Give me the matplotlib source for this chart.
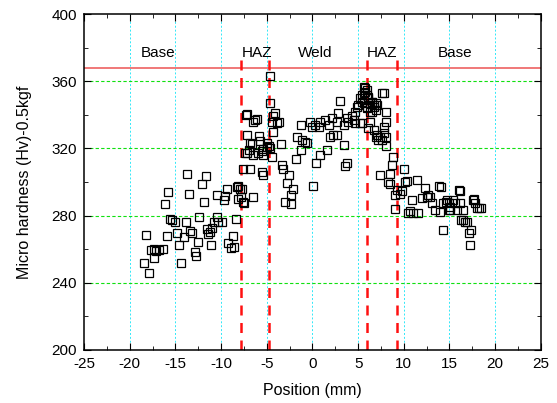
import numpy as np
import matplotlib
matplotlib.use("Agg")
import matplotlib.pyplot as plt
from matplotlib.ticker import MultipleLocator

plt.rcParams['font.family'] = ['Liberation Sans', 'DejaVu Sans']
plt.rcParams['axes.unicode_minus'] = False

# microhardness profile across the weld
pos = [
    # left base
    -18.2, -18.4, -17.9, -17.7, -17.4, -17.1, -16.8, -16.4, -17.3, -16.1, -15.9, -15.8,
    -15.6, -15.4, -15.1, -14.8, -14.6, -14.4, -14.1, -13.9, -13.7, -13.5, -13.4, -13.2,
    -12.9, -12.7, -12.5, -12.4, -12.1, -11.9, -11.7, -11.6, -11.4, -11.2, -11.1, -11.0,
    -10.8, -10.5, -10.4, -10.3, -9.9, -9.7, -9.6, -9.4, -9.2, -8.9, -8.7, -8.6,
    -8.4, -8.3, -8.1, -8.1, -7.9,
    # left HAZ
    -7.8, -7.7, -7.6, -7.5, -7.6, -7.4, -7.2, -7.2, -7.2, -7.0, -7.3, -6.8, -6.8, -6.6,
    -6.5, -6.5, -6.5, -6.3, -6.1, -6.0, -5.9, -5.7, -5.5, -5.5, -5.4, -5.4, -5.4, -5.0,
    -5.0, -4.8, -4.7, -4.6, -4.6, -4.4, -4.4, -4.3, -4.3, -4.1, -3.9, -3.7, -3.5,
    # weld
    -3.3, -3.2, -3.0, -2.8, -2.6, -2.4, -2.3, -2.1, -1.8, -1.7, -1.3, -1.3, -1.2, -0.8,
    -0.6, -0.3, -0.1, 0.1, 0.3, 0.4, 0.7, 0.8, 0.8, 1.4, 1.6, 1.8, 1.9, 2.1, 2.3, 2.7,
    2.7, 2.8, 3.0, 3.4, 3.4, 3.6, 3.8, 3.8, 3.9, 4.3, 4.5, 4.7, 4.7, 4.9, 5.0, 5.2,
    5.2, 5.4, 5.4, 5.4, 5.6, 5.6, 5.6, 5.8, 5.8, 5.95, 5.95, 5.95, 5.95,
    # right HAZ
    6.1, 6.1, 6.1, 6.3, 6.3, 6.3, 6.5, 6.5, 6.5, 6.7, 6.7, 6.7, 6.9, 6.9, 6.9, 7.05,
    7.05, 7.2, 7.4, 7.4, 7.6, 7.6, 7.8, 7.8, 7.8, 8.0, 8.0, 8.1, 8.1, 8.3, 8.5, 8.5,
    8.7, 8.8, 9.05, 9.05, 9.2, 9.6, 9.8,
    # right base
    10.0, 10.1, 10.3, 10.5, 10.7, 10.9, 11.05, 11.4, 11.6, 12.0, 12.3, 12.5, 12.7,
    12.9, 13.1, 13.4, 13.8, 14.0, 14.1, 14.3, 14.3, 14.6, 14.7, 14.9, 14.9, 15.1,
    15.1, 15.4, 15.6, 15.8, 16.0, 16.1, 16.2, 16.3, 16.5, 16.5, 16.7, 16.9, 17.1,
    17.2, 17.4, 17.6, 17.7, 17.8, 18.0, 18.2, 18.4,
]
hv = [
    268.5, 252.0, 245.6, 259.5, 260.0, 259.0, 259.5, 260.0, 254.6, 287.0, 268.0, 294.0,
    278.0, 277.4, 276.4, 269.8, 262.5, 251.6, 267.5, 276.4, 305.0, 292.7, 271.0, 269.5,
    258.5, 256.0, 264.0, 279.0, 299.0, 288.0, 303.7, 272.0, 269.0, 270.0, 262.5, 272.8,
    276.4, 279.4, 292.0, 276.4, 276.4, 289.3, 291.7, 295.8, 263.5, 260.5, 267.9, 261.5,
    278.0, 297.0, 290.0, 297.5, 296.0,
    291.0, 296.0, 288.0, 287.7, 308.0, 317.0, 317.0, 328.0, 340.5, 319.0, 340.0, 308.0,
    323.4, 322.4, 336.0, 316.0, 291.0, 337.0, 337.5, 317.0, 327.3, 324.4, 306.0, 318.5,
    316.0, 304.0, 319.4, 323.4, 321.0, 321.4, 363.3, 346.8, 320.5, 336.0, 315.0, 339.0,
    330.0, 341.0, 335.0, 336.0, 322.9,
    310.0, 308.0, 288.0, 299.6, 304.0, 292.0, 287.0, 296.0, 313.5, 327.0, 334.0, 319.0,
    325.0, 324.0, 323.0, 336.0, 333.0, 297.6, 334.0, 311.5, 332.6, 336.0, 316.0, 337.0,
    319.0, 334.0, 327.0, 338.0, 328.0, 336.0, 328.0, 341.0, 348.0, 334.0, 322.0, 309.5,
    338.0, 311.0, 336.0, 339.0, 337.0, 335.0, 341.8, 344.8, 345.8, 349.8, 335.0, 351.8,
    347.8, 335.0, 356.7, 352.8, 346.8, 355.8, 353.8, 354.8, 351.8, 343.8, 344.8,
    350.8, 349.8, 332.0, 346.8, 341.8, 336.0, 347.8, 341.8, 347.8, 344.8, 345.8, 331.0,
    342.9, 346.8, 327.0, 345.8, 328.0, 325.0, 327.0, 304.0, 352.8, 325.0, 352.8, 329.0,
    333.0, 336.0, 321.4, 341.8, 327.0, 300.0, 305.0, 298.8, 310.0, 314.7, 292.0, 283.7,
    295.0, 293.0, 294.8,
    307.5, 300.0, 300.8, 281.7, 282.9, 289.3, 281.4, 301.0, 281.7, 290.3, 296.2, 291.3,
    292.3, 291.3, 287.3, 283.3, 297.6, 282.3, 297.2, 287.3, 271.4, 288.3, 289.3, 283.3,
    287.3, 285.3, 283.3, 289.3, 287.3, 283.3, 295.2, 294.6, 287.3, 277.4, 283.3, 277.4,
    276.4, 276.4, 269.8, 262.5, 271.4, 289.3, 290.0, 287.3, 284.3, 284.3, 284.3,
]

haz_bounds = [-7.8, -4.8, 6.0, 9.2]
ref_hv = 368
zone_names = ['Base', 'HAZ', 'Weld', 'HAZ', 'Base']
zone_x = [-16.9, -6.1, 0.3, 7.6, 15.6]

fig = plt.figure(figsize=(5.57, 4.03), dpi=100)
ax = fig.add_axes([0.151, 0.132, 0.82, 0.833])

# grid
for gx in range(-20, 25, 5):
    ax.axvline(gx, color='#30e8f8', ls=(0, (2, 2)), lw=0.7, zorder=0)
for gy in [240, 280, 320, 360]:
    ax.axhline(gy, color='#10e010', ls=(0, (3, 2)), lw=0.8, zorder=0)

ax.axhline(ref_hv, color='#f07878', lw=1.4, zorder=1)
for b in haz_bounds:
    ax.plot([b, b], [200, 373], color='#ff1010', lw=1.8, ls=(0, (4, 3)), zorder=1)

ax.plot(pos, hv, ls='none', marker='s', ms=5.5, mfc='none', mec='black', mew=0.9, zorder=3)

for name, zx in zip(zone_names, zone_x):
    ax.text(zx, 377, name, ha='center', va='center', fontsize=11)

ax.set_xlim(-25, 25)
ax.set_ylim(200, 400)
ax.xaxis.set_major_locator(MultipleLocator(5))
ax.xaxis.set_minor_locator(MultipleLocator(2.5))
ax.yaxis.set_major_locator(MultipleLocator(40))
ax.yaxis.set_minor_locator(MultipleLocator(20))
ax.tick_params(which='both', direction='in', top=True, right=True, labelsize=11)
ax.tick_params(which='major', length=5, pad=5)
ax.tick_params(which='minor', length=3)
for s in ax.spines.values():
    s.set_linewidth(1.1)

ax.set_xlabel('Position (mm)', fontsize=11.5, labelpad=9)
ax.set_ylabel('Micro hardness (Hv)-0.5kgf', fontsize=11.5, labelpad=14)

fig.savefig('out.png', dpi=100)
